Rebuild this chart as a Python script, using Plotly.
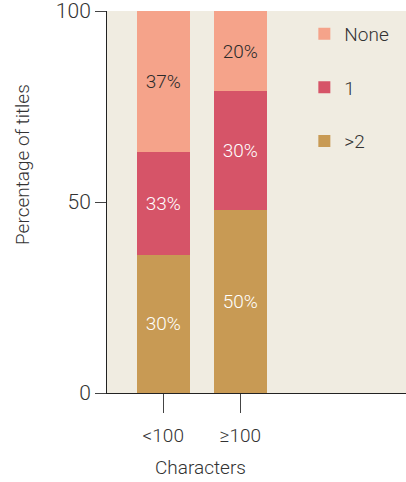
import plotly.graph_objects as go

categories = ["<100", "≥100"]
series_names = [">2", "1", "None"]
values_gt2 = [36.2, 47.8]
values_1 = [26.8, 31.2]
values_none = [37.0, 21.0]
labels_gt2 = ["30%", "50%"]
labels_1 = ["33%", "30%"]
labels_none = ["37%", "20%"]

colors = ["#C89A54", "#D65468", "#F5A38A"]
text_colors = ["#FFFFFF", "#FFFFFF", "#2B2B2B"]
legend_ranks = [3, 2, 1]
FONT = "Roboto"
W = 300

fig = go.Figure()
for name, vals, labs, col, tc, rk in zip(series_names,
                                         [values_gt2, values_1, values_none],
                                         [labels_gt2, labels_1, labels_none],
                                         colors, text_colors, legend_ranks):
    fig.add_trace(go.Bar(
        x=[0, 1], y=vals, name=name, text=labs, textposition="inside",
        insidetextanchor="middle", marker=dict(color=col, line=dict(width=0)),
        textfont=dict(color=tc, size=19, family=FONT, weight=W), width=0.69,
        legendgroup=name, legendrank=rk, hoverinfo="skip"))

pw, ph = 406 - 107, 482 - 11 - 89

fig.update_layout(
    barmode="stack",
    width=406, height=482,
    margin=dict(l=107, r=0, t=11, b=89),
    paper_bgcolor="white",
    plot_bgcolor="#F0ECE1",
    font=dict(family=FONT, size=19, color="#333333", weight=W),
    showlegend=True,
    legend=dict(x=0.66, y=0.99, xanchor="left", yanchor="top",
                bgcolor="rgba(0,0,0,0)", traceorder="grouped",
                tracegroupgap=26, font=dict(size=19, color="#333333", family=FONT, weight=W)),
    xaxis=dict(range=[-0.73, 3.15], tickvals=[0, 1], ticktext=categories,
               showgrid=False, zeroline=False, showline=True, linecolor="#222222",
               linewidth=1, ticks="outside", ticklen=19, tickcolor="#444444",
               ticklabelstandoff=6,
               tickfont=dict(size=19, color="#333333", weight=W)),
    yaxis=dict(range=[0, 100], tickvals=[0, 50, 100], showgrid=False, zeroline=False,
               showline=True, linecolor="#222222", linewidth=1, ticks="outside",
               ticklen=11, tickcolor="#444444", ticklabeloverflow="allow",
               tickfont=dict(size=21, color="#333333", weight=W)),
    annotations=[
        dict(text="Characters", x=(200 - 107) / pw, y=(393 - 467) / ph,
             xref="paper", yref="paper", xanchor="center", yanchor="middle",
             showarrow=False, font=dict(size=19, weight=W)),
        dict(text="Percentage of titles", textangle=-90, x=(22 - 107) / pw,
             y=(393 - 165) / ph, xref="paper", yref="paper", xanchor="center",
             yanchor="middle", showarrow=False, font=dict(size=19, weight=W)),
    ],
)

fig.write_html("out.html")
